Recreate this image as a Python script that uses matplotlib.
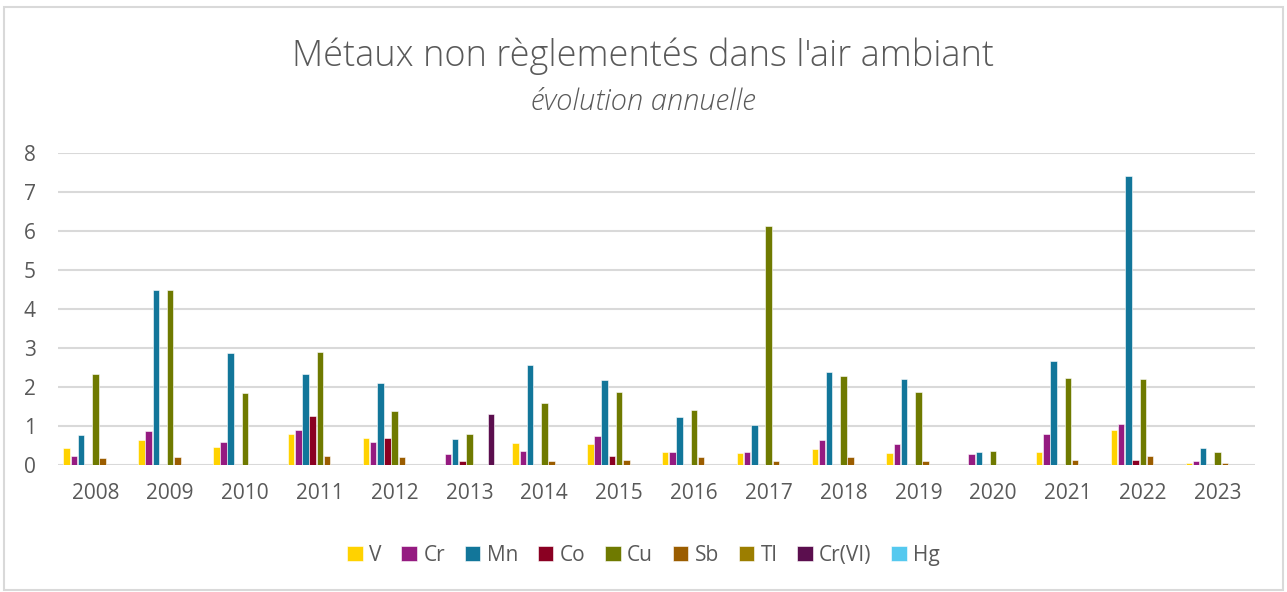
import numpy as np
import matplotlib.pyplot as plt
from matplotlib.patches import Rectangle

years = [str(y) for y in range(2008, 2024)]
nan = np.nan

V = [0.43, 0.63, 0.46, 0.79, 0.69, nan, 0.56, 0.53, 0.33, 0.30, 0.40, 0.30, nan, 0.33, 0.90, 0.04]
Cr = [0.24, 0.86, 0.60, 0.89, 0.60, 0.27, 0.37, 0.74, 0.33, 0.33, 0.63, 0.53, 0.27, 0.79, 1.06, 0.10]
Mn = [0.76, 4.50, 2.86, 2.33, 2.11, 0.66, 2.57, 2.18, 1.22, 1.03, 2.38, 2.21, 0.33, 2.67, 7.42, 0.43]
Co = [nan, nan, nan, 1.26, 0.69, 0.10, nan, 0.24, nan, nan, nan, nan, nan, nan, 0.14, nan]
Cu = [2.33, 4.50, 1.84, 2.90, 1.38, 0.79, 1.58, 1.88, 1.42, 6.12, 2.27, 1.88, 0.37, 2.24, 2.21, 0.33]
Sb = [0.17, 0.20, nan, 0.24, 0.20, nan, 0.10, 0.14, 0.21, 0.10, 0.21, 0.10, nan, 0.14, 0.24, 0.04]
Tl = [nan] * 16
CrVI = [nan, nan, nan, nan, nan, 1.32, nan, nan, nan, nan, nan, nan, nan, nan, nan, nan]
Hg = [nan] * 16

series = [
    ("V", V, "#FFD200"),
    ("Cr", Cr, "#951B81"),
    ("Mn", Mn, "#12769A"),
    ("Co", Co, "#8A0022"),
    ("Cu", Cu, "#6F7A00"),
    ("Sb", Sb, "#9B5D00"),
    ("Tl", Tl, "#9C7E00"),
    ("Cr(VI)", CrVI, "#5B0E4E"),
    ("Hg", Hg, "#55C9EF"),
]

plt.rcParams['font.family'] = ['Open Sans', 'DejaVu Sans']
grey = "#595959"

fig = plt.figure(figsize=(12.87, 5.92), dpi=100)
fig.patches.append(Rectangle((0.003, 0.003), 0.994, 0.985, transform=fig.transFigure,
                             fill=False, edgecolor="#D9D9D9", linewidth=1.5))
ax = fig.add_axes([58 / 1287, 127 / 592, (1255 - 58) / 1287, (465 - 153) / 592])

x = np.arange(len(years))
w = 0.096
for i, (name, vals, col) in enumerate(series):
    ax.bar(x + (i - 4) * w, vals, width=w * 0.9, color=col, label=name,
           edgecolor="white", linewidth=0.4, zorder=3)

ax.set_xlim(-0.5, len(years) - 0.5)
ax.set_ylim(0, 8)
ax.set_yticks(range(0, 9))
ax.set_xticks(x)
ax.set_xticklabels(years)
ax.grid(axis="y", color="#D9D9D9", linewidth=1.5, zorder=0)
for s in ax.spines.values():
    s.set_visible(False)
ax.tick_params(axis="both", length=0, labelsize=15, labelcolor=grey)
ax.tick_params(axis="y", pad=16)
ax.tick_params(axis="x", pad=13)

fig.text(0.5, 0.905, "Métaux non règlementés dans l'air ambiant", ha="center", va="center",
         fontsize=26, color=grey, fontweight="light")
fig.text(0.5, 0.828, "évolution annuelle", ha="center", va="center",
         fontsize=21, color=grey, style="italic", fontweight="light")

fig.legend(loc="center", bbox_to_anchor=(0.5, 0.062), ncol=9, frameon=False,
           fontsize=15, labelcolor=grey, handlelength=0.75, handleheight=0.75,
           handletextpad=0.3, columnspacing=0.95)

fig.savefig("out.png", dpi=100)
